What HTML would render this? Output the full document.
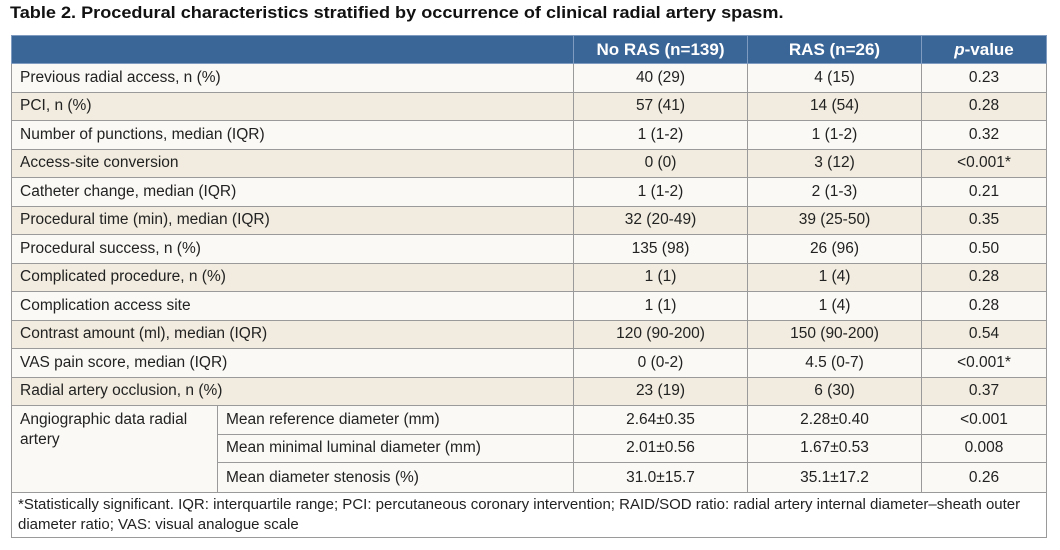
<!DOCTYPE html>
<html><head><meta charset="utf-8"><style>
body{margin:0;width:1060px;height:550px;background:#fff;font-family:"Liberation Sans",sans-serif;position:relative;overflow:hidden}
.t{position:absolute;left:10px;top:3px;font-weight:bold;font-size:17px;color:#111;white-space:nowrap;transform-origin:0 0;transform:scaleX(1.065)}
table{position:absolute;left:11px;top:35px;border-collapse:collapse;width:1035px;table-layout:fixed;font-size:15.5px;color:#222}
td{border:1px solid #9a9a9a;height:28.5px;padding:0 0 0 8px;white-space:nowrap;box-sizing:border-box}
td.c{text-align:center;padding:0}
tr.h td{background:#3a6597;color:#fff;font-weight:bold;font-size:17px;border-color:#7f9cc0;height:28px}
tr.w td{background:#faf9f5}
tr.b td{background:#f1ecdf}
td.f{height:45px;padding:2px 6px;white-space:normal;line-height:20px;font-size:15px;background:#fff}
</style></head><body>
<div class="t">Table 2. Procedural characteristics stratified by occurrence of clinical radial artery spasm.</div>
<table>
<colgroup><col style="width:206px"><col style="width:356px"><col style="width:174px"><col style="width:174px"><col style="width:125px"></colgroup>
<tr class="h"><td colspan="2"></td><td class="c">No RAS (n=139)</td><td class="c">RAS (n=26)</td><td class="c"><i>p</i>-value</td></tr>
<tr class="w"><td colspan="2">Previous radial access, n (%)</td><td class="c">40 (29)</td><td class="c">4 (15)</td><td class="c">0.23</td></tr>
<tr class="b"><td colspan="2">PCI, n (%)</td><td class="c">57 (41)</td><td class="c">14 (54)</td><td class="c">0.28</td></tr>
<tr class="w"><td colspan="2">Number of punctions, median (IQR)</td><td class="c">1 (1-2)</td><td class="c">1 (1-2)</td><td class="c">0.32</td></tr>
<tr class="b"><td colspan="2">Access-site conversion</td><td class="c">0 (0)</td><td class="c">3 (12)</td><td class="c">&lt;0.001*</td></tr>
<tr class="w"><td colspan="2">Catheter change, median (IQR)</td><td class="c">1 (1-2)</td><td class="c">2 (1-3)</td><td class="c">0.21</td></tr>
<tr class="b"><td colspan="2">Procedural time (min), median (IQR)</td><td class="c">32 (20-49)</td><td class="c">39 (25-50)</td><td class="c">0.35</td></tr>
<tr class="w"><td colspan="2">Procedural success, n (%)</td><td class="c">135 (98)</td><td class="c">26 (96)</td><td class="c">0.50</td></tr>
<tr class="b"><td colspan="2">Complicated procedure, n (%)</td><td class="c">1 (1)</td><td class="c">1 (4)</td><td class="c">0.28</td></tr>
<tr class="w"><td colspan="2">Complication access site</td><td class="c">1 (1)</td><td class="c">1 (4)</td><td class="c">0.28</td></tr>
<tr class="b"><td colspan="2">Contrast amount (ml), median (IQR)</td><td class="c">120 (90-200)</td><td class="c">150 (90-200)</td><td class="c">0.54</td></tr>
<tr class="w"><td colspan="2">VAS pain score, median (IQR)</td><td class="c">0 (0-2)</td><td class="c">4.5 (0-7)</td><td class="c">&lt;0.001*</td></tr>
<tr class="b"><td colspan="2">Radial artery occlusion, n (%)</td><td class="c">23 (19)</td><td class="c">6 (30)</td><td class="c">0.37</td></tr>
<tr class="w"><td rowspan="3" style="vertical-align:top;padding-top:4px;white-space:normal;line-height:20px">Angiographic data radial artery</td><td style="height:28.5px">Mean reference diameter (mm)</td><td class="c">2.64±0.35</td><td class="c">2.28±0.40</td><td class="c">&lt;0.001</td></tr>
<tr class="w"><td style="height:28.5px">Mean minimal luminal diameter (mm)</td><td class="c">2.01±0.56</td><td class="c">1.67±0.53</td><td class="c">0.008</td></tr>
<tr class="w"><td style="height:30px">Mean diameter stenosis (%)</td><td class="c">31.0±15.7</td><td class="c">35.1±17.2</td><td class="c">0.26</td></tr>
<tr><td class="f" colspan="5">*Statistically significant. IQR: interquartile range; PCI: percutaneous coronary intervention; RAID/SOD ratio: radial artery internal diameter–sheath outer diameter ratio; VAS: visual analogue scale</td></tr>
</table>
</body></html>
